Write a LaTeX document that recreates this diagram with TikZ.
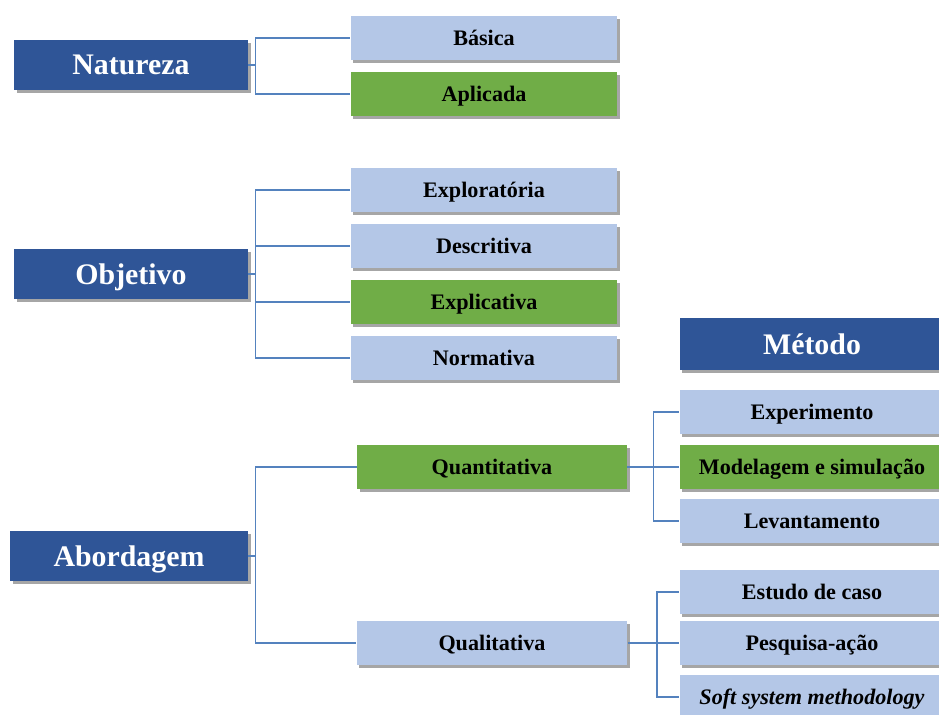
\documentclass[tikz,border=0pt]{standalone}
\usepackage{fontspec}
\setmainfont{Liberation Serif}
\definecolor{dblue}{RGB}{47,85,151}
\definecolor{lblue}{RGB}{180,199,231}
\definecolor{lgreen}{RGB}{112,173,71}
\definecolor{lnblue}{RGB}{84,130,190}
\usetikzlibrary{shadows}

\begin{document}
\begin{tikzpicture}[x=0.02cm, y=-0.02cm,
    head/.style={fill=dblue, text=white, minimum width=4.68cm, minimum height=1cm, text depth=0pt,
                 font=\fontsize{17}{19}\selectfont\bfseries,
                 drop shadow={shadow xshift=1.5pt, shadow yshift=-1.5pt, fill=black, opacity=0.35}},
    item/.style={fill=lblue, minimum width=5.34cm, minimum height=0.88cm, inner sep=2pt, text depth=0pt,
                 font=\fontsize{12.6}{14}\selectfont\bfseries,
                 drop shadow={shadow xshift=1.5pt, shadow yshift=-1.5pt, fill=black, opacity=0.35}},
    pick/.style={item, fill=lgreen},
    link/.style={lnblue, line width=0.9pt},
  ]
    \useasboundingbox (0,0) rectangle (939,715);

    % natureza
    \node[head] (nat) at (131,65)  {Natureza};
    \node[item] (bas) at (484,38)  {Básica};
    \node[pick] (apl) at (484,94)  {Aplicada};

    % objetivo
    \node[head] (obj) at (131,274) {Objetivo};
    \node[item] (exp) at (484,190) {Exploratória};
    \node[item] (des) at (484,246) {Descritiva};
    \node[pick] (epl) at (484,302) {Explicativa};
    \node[item] (nor) at (484,358) {Normativa};

    % abordagem
    \node[head, minimum width=4.76cm] (abo) at (129,556) {Abordagem};
    \node[pick, minimum width=5.4cm] (qnt) at (492,467) {Quantitativa};
    \node[item, minimum width=5.42cm] (qlt) at (492,643) {Qualitativa};

    % metodo
    \node[head, minimum width=5.3cm, minimum height=1.04cm] (met) at (812,344) {Método};
    \node[item, minimum width=5.3cm] (ex)  at (812,412) {Experimento};
    \node[pick, minimum width=5.3cm] (mod) at (812,467) {Modelagem e simulação};
    \node[item, minimum width=5.3cm] (lev) at (812,521) {Levantamento};
    \node[item, minimum width=5.3cm] (est) at (812,592) {Estudo de caso};
    \node[item, minimum width=5.3cm] (pes) at (812,643) {Pesquisa-ação};
    \node[item, minimum width=5.3cm] (ssm) at (812,697) {\textit{Soft system methodology}};

    \foreach \t in {bas,apl}
      \draw[link] (nat.east) -- ++(7,0) |- (\t.west);
    \foreach \t in {exp,des,epl,nor}
      \draw[link] (obj.east) -- ++(7,0) |- (\t.west);
    \foreach \t in {qnt,qlt}
      \draw[link] (abo.east) -- ++(7,0) |- (\t.west);
    \foreach \t in {ex,mod,lev}
      \draw[link] (qnt.east) -- ++(26,0) |- (\t.west);
    \foreach \t in {est,pes,ssm}
      \draw[link] (qlt.east) -- ++(29,0) |- (\t.west);
  \end{tikzpicture}
\end{document}
